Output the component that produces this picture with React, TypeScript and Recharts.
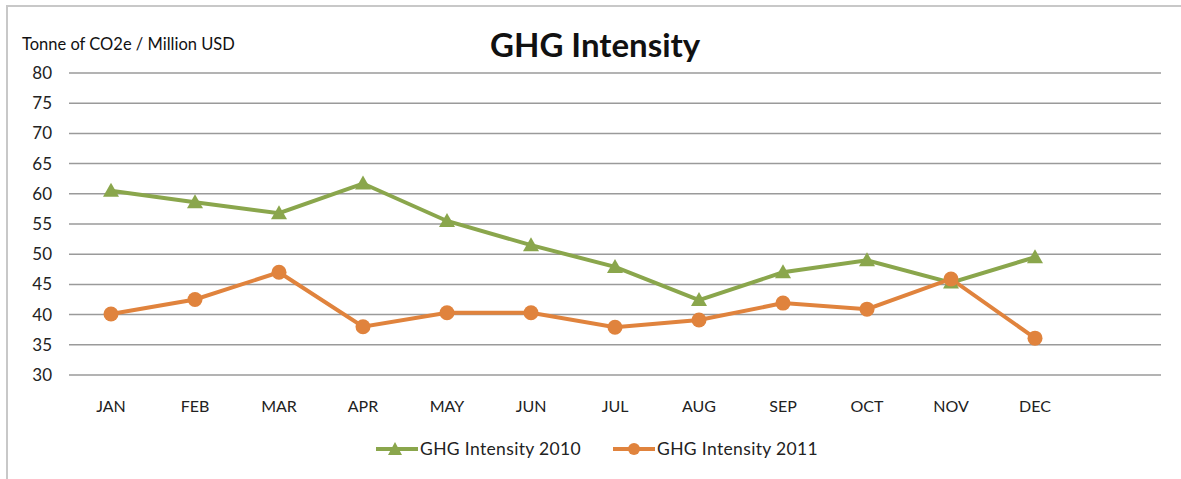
import React from 'react'
import { LineChart, Line, XAxis, YAxis, CartesianGrid } from 'recharts'

const months = ['JAN', 'FEB', 'MAR', 'APR', 'MAY', 'JUN', 'JUL', 'AUG', 'SEP', 'OCT', 'NOV', 'DEC']
const intensity2010 = [60.5, 58.6, 56.8, 61.7, 55.5, 51.5, 47.9, 42.4, 47.0, 49.0, 45.3, 49.5]
const intensity2011 = [40.1, 42.5, 47.0, 38.0, 40.3, 40.3, 37.9, 39.1, 41.9, 40.9, 45.9, 36.1]
const yTicks = [30, 35, 40, 45, 50, 55, 60, 65, 70, 75, 80]

const GREEN = '#8aa64c'
const ORANGE = '#e0833d'
const FONT = 'Lato, "Open Sans", sans-serif'

const data = months.map((m, i) => ({
  month: m,
  y2010: intensity2010[i],
  y2011: intensity2011[i],
}))

function TriangleDot(props: any) {
  const { cx, cy } = props
  if (cx == null || cy == null) return null
  return <polygon points={`${cx},${cy - 8} ${cx + 8},${cy + 6} ${cx - 8},${cy + 6}`} fill={GREEN} />
}

function CircleDot(props: any) {
  const { cx, cy } = props
  if (cx == null || cy == null) return null
  return <circle cx={cx} cy={cy} r={7.5} fill={ORANGE} />
}

function ChartLegend() {
  return (
    <div
      style={{
        position: 'absolute',
        left: 376,
        top: 438,
        display: 'flex',
        fontFamily: FONT,
        fontSize: 17.5,
        letterSpacing: 0.35,
        color: '#222',
        whiteSpace: 'nowrap',
      }}
    >
      <div style={{ display: 'flex', alignItems: 'center', width: 237 }}>
        <svg width={42} height={18}>
          <line x1={0} y1={9} x2={42} y2={9} stroke={GREEN} strokeWidth={4} />
          <polygon points="19,2 26,15 12,15" fill={GREEN} />
        </svg>
        <span style={{ marginLeft: 2 }}>GHG Intensity 2010</span>
      </div>
      <div style={{ display: 'flex', alignItems: 'center' }}>
        <svg width={42} height={18}>
          <line x1={0} y1={9} x2={42} y2={9} stroke={ORANGE} strokeWidth={4} />
          <circle cx={21} cy={9} r={6} fill={ORANGE} />
        </svg>
        <span style={{ marginLeft: 2 }}>GHG Intensity 2011</span>
      </div>
    </div>
  )
}

export default function App() {
  return (
    <div style={{ position: 'absolute', left: 0, top: 0, width: 1181, height: 479, background: '#fff', overflow: 'hidden' }}>
      <div
        style={{
          position: 'absolute',
          left: 6,
          top: 5,
          width: 1200,
          height: 500,
          borderTop: '2px solid #c8c8c8',
          borderLeft: '2px solid #c8c8c8',
        }}
      />
      <div style={{ position: 'absolute', left: 22, top: 34, fontFamily: FONT, fontSize: 16.5, color: '#111', whiteSpace: 'nowrap' }}>
        Tonne of CO2e / Million USD
      </div>
      <div
        style={{
          position: 'absolute',
          left: 490,
          top: 24,
          fontFamily: FONT,
          fontSize: 33,
          fontWeight: 'bold',
          color: '#111',
          whiteSpace: 'nowrap',
        }}
      >
        GHG Intensity
      </div>
      <div style={{ position: 'absolute', left: 0, top: 0 }}>
        <LineChart width={1181} height={479} data={data} margin={{ top: 73, right: 20, bottom: 54, left: 0 }}>
          <CartesianGrid vertical={false} stroke="#9a9a9a" strokeWidth={1.5} />
          <XAxis
            dataKey="month"
            scale="point"
            padding={{ left: 42, right: 126 }}
            axisLine={false}
            tickLine={false}
            tickSize={0}
            tickMargin={26}
            height={50}
            tick={{ fontFamily: FONT, fontSize: 16, fill: '#222' }}
            interval={0}
          />
          <YAxis
            width={69}
            domain={[30, 80]}
            ticks={yTicks}
            axisLine={false}
            tickLine={false}
            tickSize={0}
            tickMargin={17}
            tick={{ fontFamily: FONT, fontSize: 17, fill: '#222' }}
          />
          <Line
            dataKey="y2010"
            stroke={GREEN}
            strokeWidth={4}
            dot={<TriangleDot />}
            activeDot={false}
            isAnimationActive={false}
          />
          <Line
            dataKey="y2011"
            stroke={ORANGE}
            strokeWidth={4}
            dot={<CircleDot />}
            activeDot={false}
            isAnimationActive={false}
          />
        </LineChart>
      </div>
      <ChartLegend />
    </div>
  )
}
